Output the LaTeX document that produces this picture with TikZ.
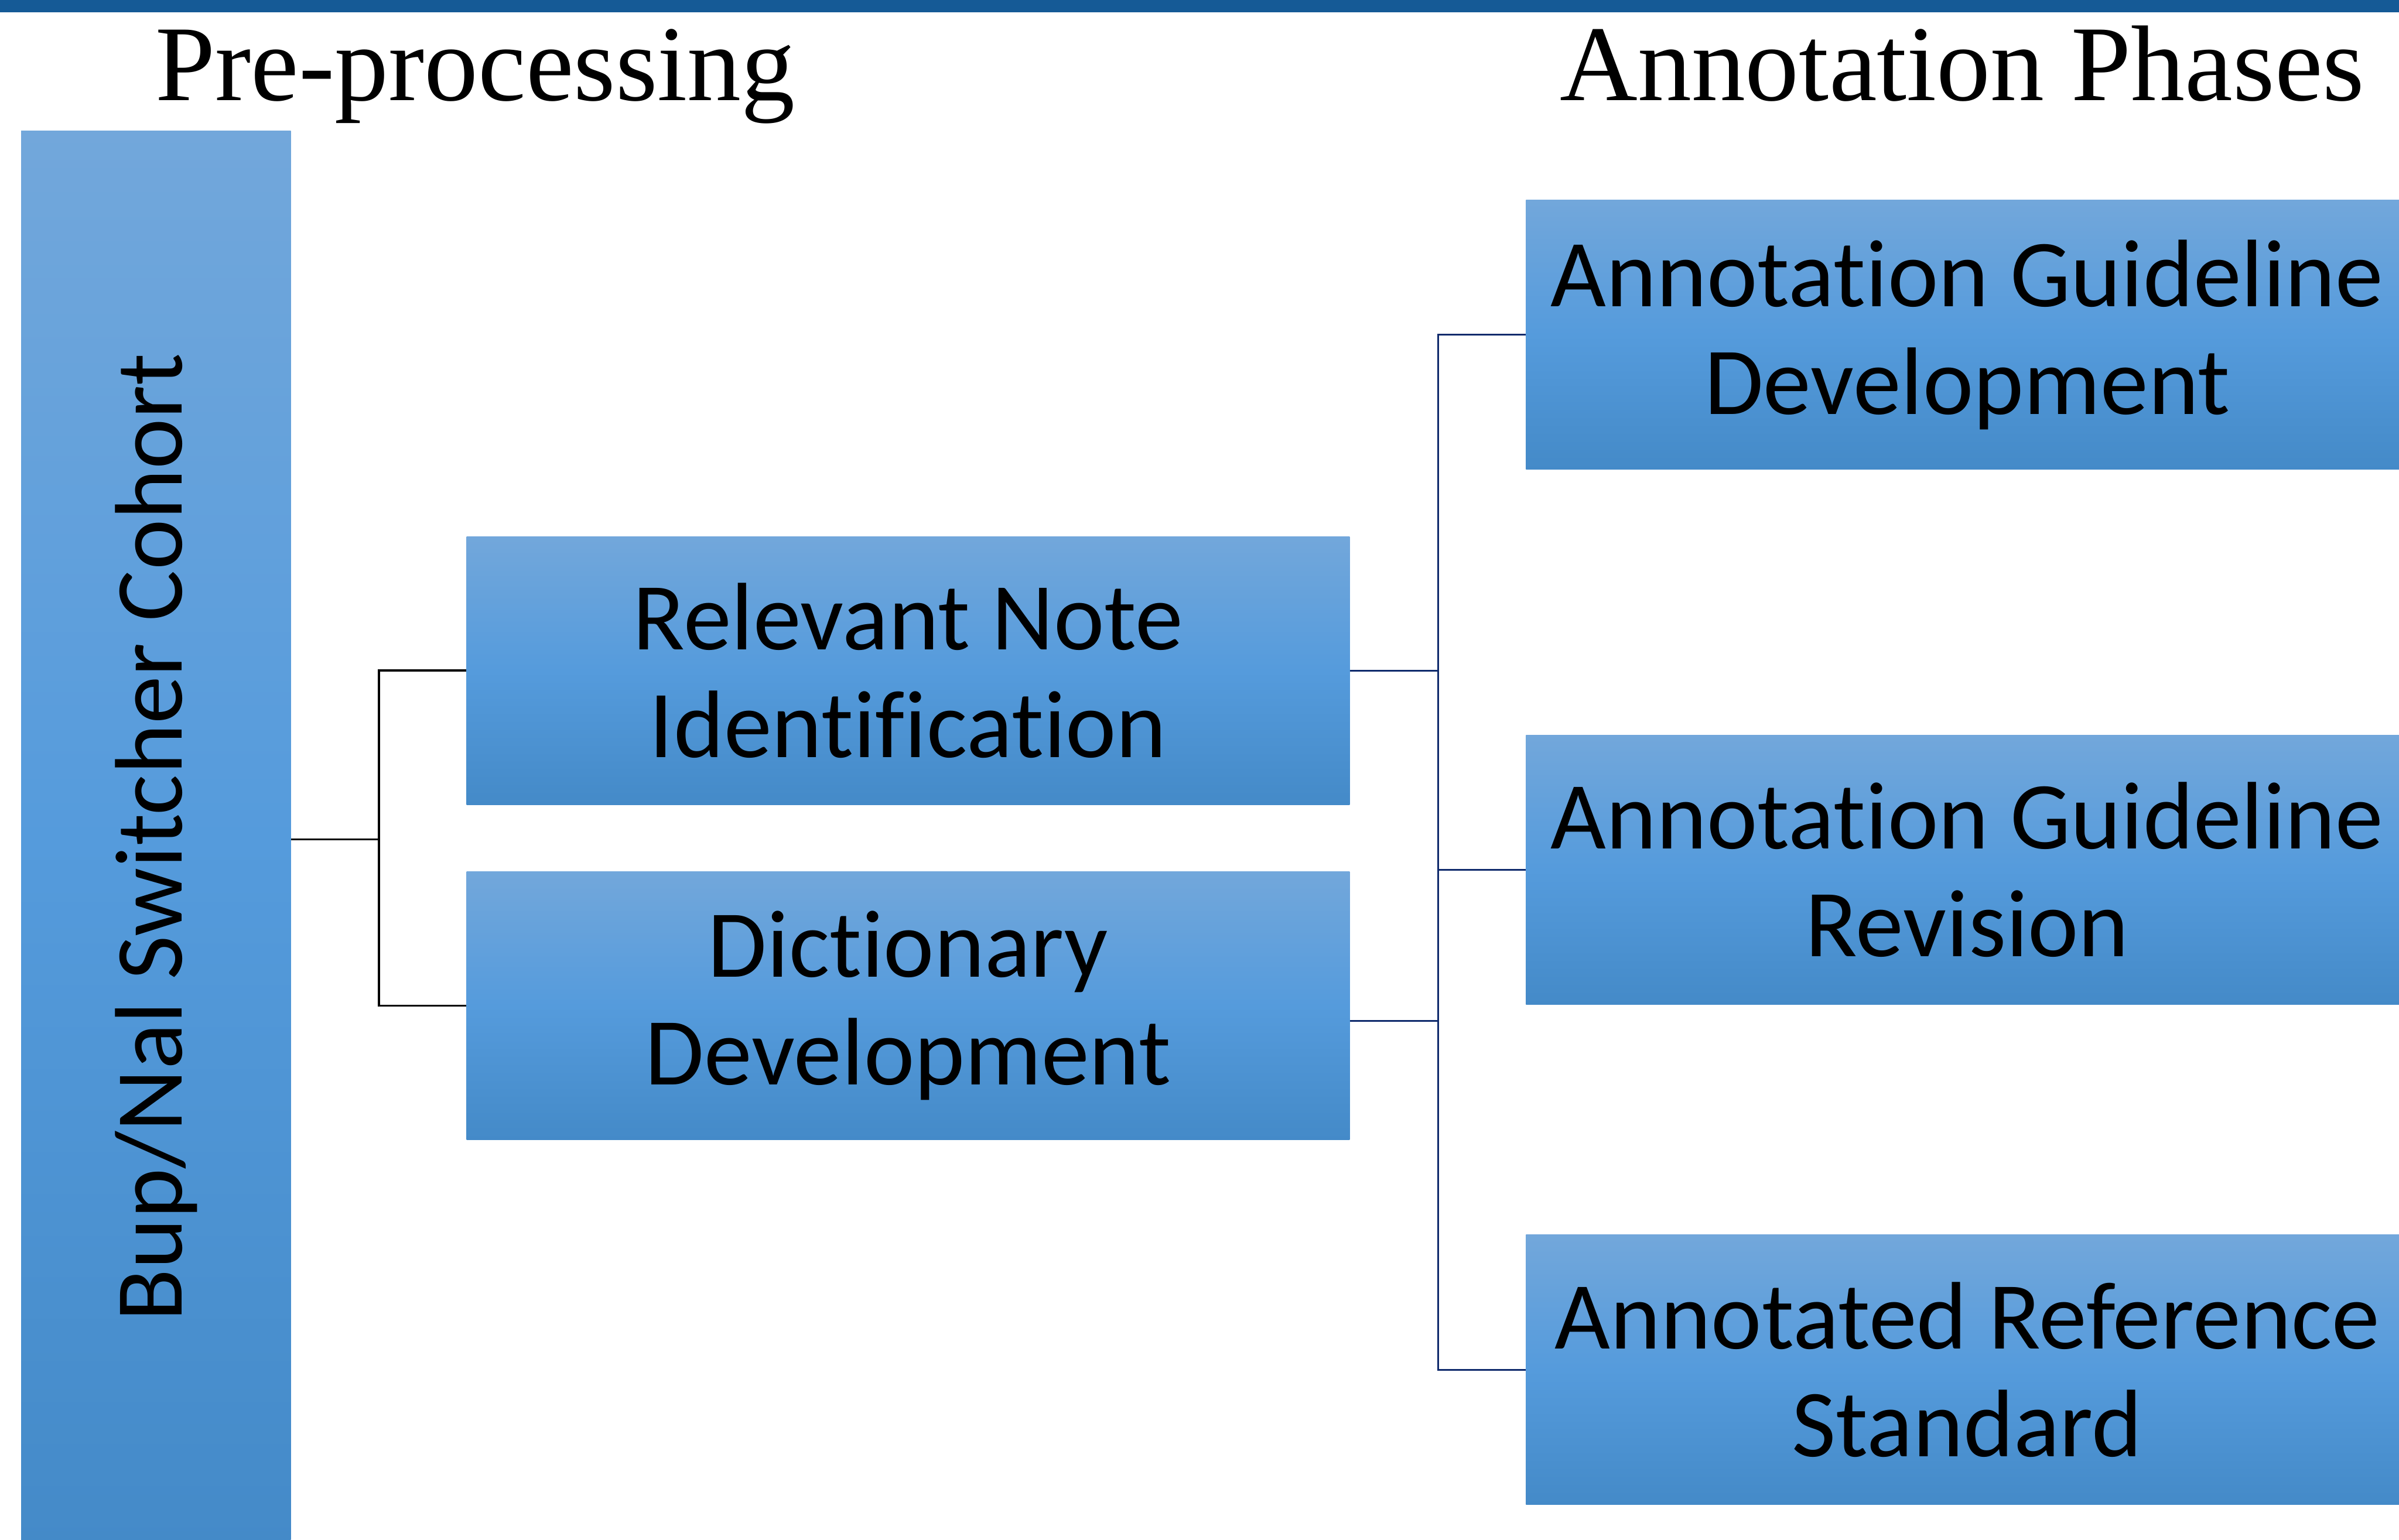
\documentclass[tikz,border=0pt]{standalone}
\usepackage{fontspec}
\setmainfont{Carlito}[Ligatures=NoCommon]
\newfontfamily\titlefont{Liberation Serif}
\usetikzlibrary{positioning}

\definecolor{barblue}{HTML}{155A96}
\definecolor{boxtop}{HTML}{72A7DB}
\definecolor{boxmid}{HTML}{559BDC}
\definecolor{boxbot}{HTML}{448AC8}
\definecolor{linknavy}{HTML}{0F2A6C}

\begin{document}
\begin{tikzpicture}[
  box/.style={rectangle, inner sep=0pt, top color=boxtop, bottom color=boxbot, middle color=boxmid,
    align=center, font=\fontsize{49}{55}\selectfont},
  phase/.style={anchor=base, font=\titlefont\fontsize{55}{60}\selectfont},
  lconn/.style={black, line width=1.1pt},
  rconn/.style={linknavy, line width=0.9pt}]

\useasboundingbox (0,0) rectangle (43.06,27.64);
\clip (0,0) rectangle (43.06,27.64);

% top bar
\fill[barblue] (0,27.42) rectangle (43.06,27.64);

% headings
\node[phase] (preproc) at (8.53,25.84) {Pre-processing};
\node[phase] (phases) at (35.22,25.84) {Annotation Phases};

% cohort
\node[box, minimum width=4.84cm, minimum height=25.44cm] (cohort) at (2.80,12.57) {};
\node[rotate=90, font=\fontsize{49}{55}\selectfont] (cohorttext) at (2.80,12.61) {Bup/Nal Switcher Cohort};

% pre-processing steps
\node[box, minimum width=15.85cm, minimum height=4.81cm] (relnote) at (16.30,15.60) {Relevant Note\\Identification};
\node[box, minimum width=15.85cm, minimum height=4.81cm] (dict) at (16.30,9.585) {Dictionary\\Development};

% annotation phases
\node[box, minimum width=15.84cm, minimum height=4.84cm] (agd) at (35.31,21.63) {Annotation Guideline\\Development};
\node[box, minimum width=15.84cm, minimum height=4.84cm] (agr) at (35.31,12.025) {Annotation Guideline\\Revision};
\node[box, minimum width=15.84cm, minimum height=4.84cm] (ars) at (35.31,3.05) {Annotated Reference\\Standard};

% left connectors
\coordinate (lsplit) at (6.80,12.57);
\draw[lconn] (cohort.east) -- (lsplit);
\draw[lconn] (relnote.west) -| (lsplit) |- (dict.west);

% right connectors
\coordinate (rsplit) at (25.81,12.025);
\draw[rconn] (agd.west) -| (rsplit) |- (ars.west);
\draw[rconn] (rsplit) -- (agr.west);
\draw[rconn] (relnote.east) -- (relnote.east -| rsplit);
\draw[rconn] ([yshift=-2.7mm]dict.east) -- ([yshift=-2.7mm]dict.east -| rsplit);

\end{tikzpicture}
\end{document}
